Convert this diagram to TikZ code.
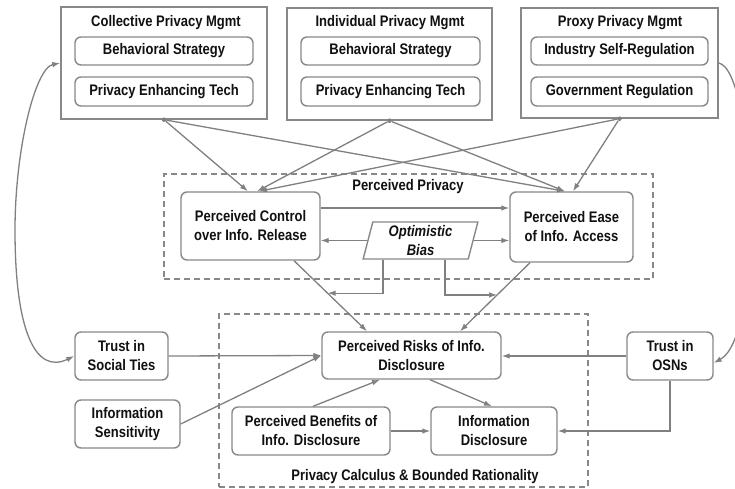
\documentclass[tikz,border=0pt]{standalone}
\usepackage{fontspec}
\setmainfont{Liberation Sans}[FakeStretch=0.85]
\usetikzlibrary{arrows.meta,calc,shapes.geometric}
\definecolor{ln}{HTML}{808080}
\definecolor{bd}{HTML}{888888}
\definecolor{tx}{HTML}{111111}
\begin{document}
\begin{tikzpicture}[x=1bp,y=-1bp,
  every node/.style={font=\fontsize{15.3bp}{19bp}\selectfont\bfseries, text=tx},
  box/.style={draw=bd, line width=1.4bp, rounded corners=6bp, align=center, inner sep=0pt},
  outer/.style={draw=bd, line width=1.4bp, inner sep=0pt},
  dbox/.style={draw=bd, line width=1.3bp, dash pattern=on 6bp off 4bp, inner sep=0pt},
  arr/.style={draw=ln, line width=1.3bp, -{Latex[length=8bp,width=5.5bp]}},
  dbl/.style={draw=ln, line width=1.3bp, {Latex[length=8bp,width=5.5bp]}-{Latex[length=8bp,width=5.5bp]}},
  dot/.style={circle, fill=ln, inner sep=0pt, minimum size=4.5bp}
]
\useasboundingbox (0,0) rectangle (735,489);
\fill[white] (0,0) rectangle (735,489);

% top management boxes
\node[outer, minimum width=206bp, minimum height=112bp] (coll) at (164,63) {};
\node (collt) at (166,23) {Collective Privacy Mgmt};
\node[box, minimum width=178bp, minimum height=28bp] (cbs) at (164,51) {Behavioral Strategy};
\node[box, minimum width=178bp, minimum height=29bp] (cpet) at (164,91.5) {Privacy Enhancing Tech};

\node[outer, minimum width=205bp, minimum height=112bp] (indi) at (389.5,64) {};
\node (indit) at (390,23) {Individual Privacy Mgmt};
\node[box, minimum width=179bp, minimum height=28bp] (ibs) at (390.5,51) {Behavioral Strategy};
\node[box, minimum width=179bp, minimum height=29bp] (ipet) at (390.5,91.5) {Privacy Enhancing Tech};

\node[outer, minimum width=197bp, minimum height=110bp] (prox) at (619.5,63) {};
\node (proxt) at (620,23) {Proxy Privacy Mgmt};
\node[box, minimum width=177bp, minimum height=28bp] (pisr) at (619.5,51) {Industry Self-Regulation};
\node[box, minimum width=177bp, minimum height=29bp] (pgr) at (619.5,91.5) {Government Regulation};

\node[dot] (cd) at (coll.south) {};
\node[dot] (id) at (indi.south) {};
\node[dot] (pd) at (prox.south) {};

% perceived privacy group
\node[dbox, minimum width=489bp, minimum height=105bp] (pp) at (408.5,226.5) {};
\node (ppt) at (408,187) {Perceived Privacy};
\node[box, minimum width=139bp, minimum height=68bp] (ctrl) at (250.5,226) {Perceived Control\\over Info. Release};
\node[box, minimum width=123bp, minimum height=70bp] (ease) at (571.5,227) {Perceived Ease\\of Info. Access};
\node[draw=bd, line width=1.4bp, trapezium, trapezium left angle=78, trapezium right angle=102,
      trapezium stretches=true, minimum width=115bp, minimum height=37bp, inner sep=0pt, align=center,
      font=\fontsize{15.3bp}{19bp}\selectfont\bfseries\itshape] (bias) at (420.5,240.5) {Optimistic\\Bias};

% privacy calculus group
\node[dbox, minimum width=369bp, minimum height=173bp] (pc) at (403.5,400.5) {};
\node (pct) at (415,477) {Privacy Calculus \& Bounded Rationality};
\node[box, minimum width=179bp, minimum height=47bp] (risk) at (411.5,355.5) {Perceived Risks of Info.\\Disclosure};
\node[box, minimum width=158bp, minimum height=48bp] (ben) at (311,431) {Perceived Benefits of\\Info. Disclosure};
\node[box, minimum width=126bp, minimum height=48bp] (disc) at (494,431) {Information\\Disclosure};

% outside nodes
\node[box, minimum width=93bp, minimum height=48bp] (st) at (121.5,356) {Trust in\\Social Ties};
\node[box, minimum width=105bp, minimum height=48bp] (sens) at (127.5,424) {Information\\Sensitivity};
\node[box, minimum width=86bp, minimum height=48bp] (osn) at (670,356) {Trust in\\OSNs};

% top arrows
\draw[arr] (cd) -- ([xshift=-2.5bp]ctrl.north);
\draw[arr] (id) -- ([xshift=6.5bp]ctrl.north);
\draw[arr] (pd) -- ([xshift=8.5bp]ctrl.north);
\draw[arr] (cd) -- ([xshift=-6.5bp]ease.north);
\draw[arr] (id) -- ([xshift=-6.5bp]ease.north);
\draw[arr] (pd) -- ([xshift=1.5bp]ease.north);

% within perceived privacy
\coordinate (ce) at ([yshift=18bp]ctrl.east);
\draw[arr] (ce) -- (ce -| ease.west);
\draw[arr] (bias.west) -- (bias.west -| ctrl.east);
\draw[arr] (bias.east) -- (bias.east -| ease.west);

% to risks
\coordinate (c1) at ([xshift=43.5bp]ctrl.south);
\coordinate (r1) at ([xshift=-44.5bp]risk.north);
\coordinate (e1) at ([xshift=-41.5bp]ease.south);
\coordinate (r2) at ([xshift=48.5bp]risk.north);
\draw[arr] (c1) -- (r1);
\draw[arr] (e1) -- (r2);
\coordinate (m1) at ($(c1)!0.46!(r1)$);
\coordinate (m2) at ($(e1)!0.47!(r2)$);
\draw[arr] ([xshift=-37.5bp]bias.south) |- (m1);
\draw[arr] ([xshift=24.5bp]bias.south) |- (m2);

% privacy calculus arrows
\draw[arr] (st.east) -- (risk.west);
\draw[arr] (sens.east) -- (risk.west);
\draw[arr] ([xshift=2bp]ben.north) -- ([xshift=-31.5bp]risk.south);
\draw[arr] ([xshift=18.5bp]risk.south) -- ([xshift=-2bp]disc.north);
\draw[arr] (ben.east) -- (disc.west);
\draw[arr] (osn.west) -- (osn.west -| risk.east);
\draw[arr] (osn.south) |- (disc.east);

% long curves
\draw[dbl] (st.west) .. controls (35,375) and (15,330) .. (15,230)
           .. controls (15,150) and (35,68) .. (coll.west);
\draw[arr] (prox.east) .. controls (755,70) and (765,335) .. ([yshift=-7bp]osn.east);
\end{tikzpicture}
\end{document}
